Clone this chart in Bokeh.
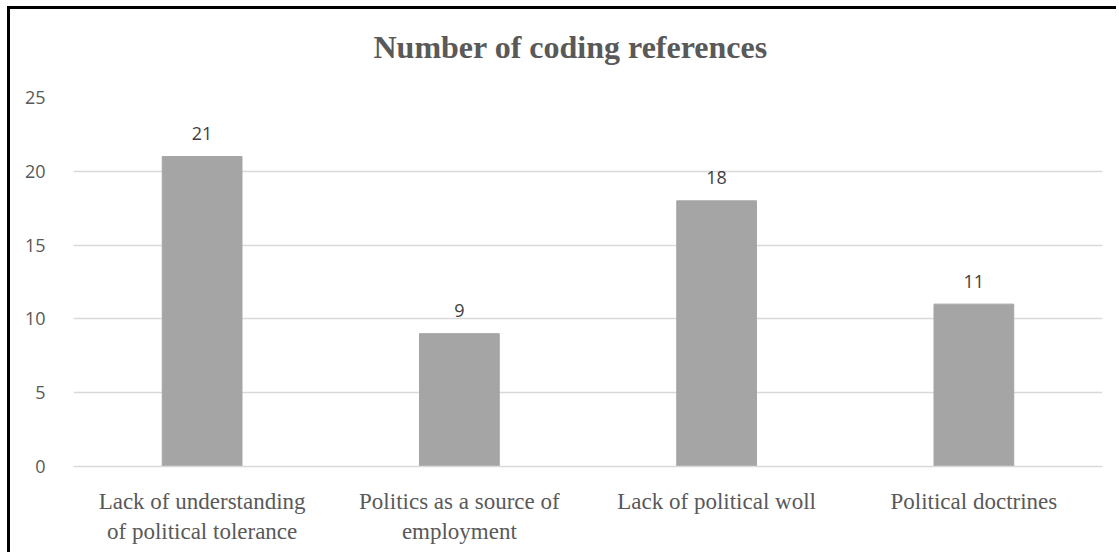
from bokeh.plotting import figure
from bokeh.models import ColumnDataSource, LabelSet, FactorRange, Title
from bokeh.core.properties import value
from bokeh.embed import file_html
from bokeh.resources import INLINE

categories = ["Lack of understanding\nof political tolerance",
              "Politics as a source of\nemployment",
              "Lack of political woll",
              "Political doctrines"]
values = [21, 9, 18, 11]
y_ticks = [0, 5, 10, 15, 20, 25]
title_text = "Number of coding references"

src = ColumnDataSource(dict(cat=categories, val=values, lab=[str(v) for v in values]))

p = figure(x_range=FactorRange(*categories, range_padding=0), y_range=(0, 25),
           width=1109, height=546, output_backend="svg", toolbar_location=None,
           min_border_left=63, min_border_right=17, min_border_top=88, min_border_bottom=89,
           title=title_text,
           styles={"border-left": "3px solid black", "border-top": "3px solid black",
                   "margin-left": "7px", "margin-top": "6px"})
p.outline_line_color = None
p.background_fill_color = "white"

p.title.align = "left"
p.title.offset = 300
p.title.text_font = "Liberation Serif"
p.title.text_font_size = "32px"
p.title.text_font_style = "bold"
p.title.text_color = "#595959"
p.title.standoff = 35

spacer = Title(text=" ", text_font_size="10px", standoff=2)
p.add_layout(spacer, "above")

p.vbar(x="cat", top="val", width=0.31, source=src, color="#a5a5a5")

p.xgrid.grid_line_color = None
p.ygrid.grid_line_color = "#d9d9d9"
p.ygrid.grid_line_width = 1.5
p.yaxis.ticker = y_ticks
p.yaxis.axis_line_color = None
p.yaxis.major_tick_line_color = None
p.yaxis.minor_tick_line_color = None
p.yaxis.major_label_text_font = "Open Sans"
p.yaxis.major_label_text_font_size = "18px"
p.yaxis.major_label_text_color = "#595959"
p.yaxis.major_label_standoff = 22

p.xaxis.axis_line_color = "#d9d9d9"
p.xaxis.axis_line_width = 1.5
p.xaxis.major_tick_line_color = None
p.xaxis.minor_tick_line_color = None
p.xaxis.major_label_text_font = "Liberation Serif"
p.xaxis.major_label_text_font_size = "23px"
p.xaxis.major_label_text_color = "#595959"
p.xaxis.major_label_standoff = 16

labels = LabelSet(x="cat", y="val", text="lab", source=src, y_offset=23,
                  text_align="center", text_baseline="middle",
                  text_font=value("Open Sans"), text_font_size=value("18px"),
                  text_color="#404040")
p.add_layout(labels)

open("out.html", "w").write(file_html(p, INLINE))
